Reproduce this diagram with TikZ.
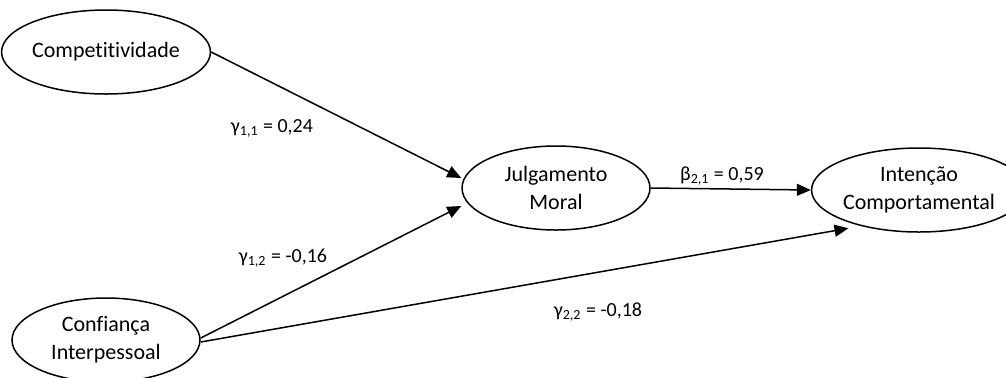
\documentclass[tikz,border=0pt]{standalone}
\usepackage{fontspec}
\setmainfont[Ligatures=NoCommon]{Carlito}
\usetikzlibrary{shapes.geometric,arrows.meta}
\begin{document}
\begin{tikzpicture}[x=0.5pt,y=-0.5pt,
    var/.style={draw,ellipse,line width=0.75pt,minimum width=94pt,minimum height=42pt,
                inner sep=0pt,align=center,font=\fontsize{11}{14}\selectfont},
    arr/.style={draw,line width=0.75pt,-{Triangle[length=7pt,width=6pt]}},
    coef/.style={inner sep=0pt,font=\fontsize{10}{12}\selectfont}]
                % 余白を固定
                \useasboundingbox (0,0) rectangle (1006,377);

                % 潜在変数(楕円)
                \node[var] (comp) at (106,52) {Competitividade};
                \node[var] (conf) at (106,340) {Confiança\\Interpessoal};
                \node[var] (julg) at (556,188) {Julgamento\\Moral};
                \node[var] (inten) at (919,190) {Intenção\\Comportamental};

                % パス(矢印)
                \draw[arr] (comp.east) -- ([yshift=5pt]julg.west);
                \draw[arr] ([yshift=1pt]conf.east) -- ([yshift=-9pt]julg.west);
                \draw[arr] ([yshift=-1pt]conf.east) -- ([shift={(3pt,-4pt)}]inten.south west);
                \draw[arr] (julg.east) -- (inten.west);

                % パス係数
                \node[coef] (g11) at (272,128) {γ\textsubscript{1,1} = 0,24};
                \node[coef] (g12) at (283,258) {γ\textsubscript{1,2} = -0,16};
                \node[coef] (b21) at (722,176) {β\textsubscript{2,1} = 0,59};
                \node[coef] (g22) at (598,312) {γ\textsubscript{2,2} = -0,18};
\end{tikzpicture}
\end{document}
